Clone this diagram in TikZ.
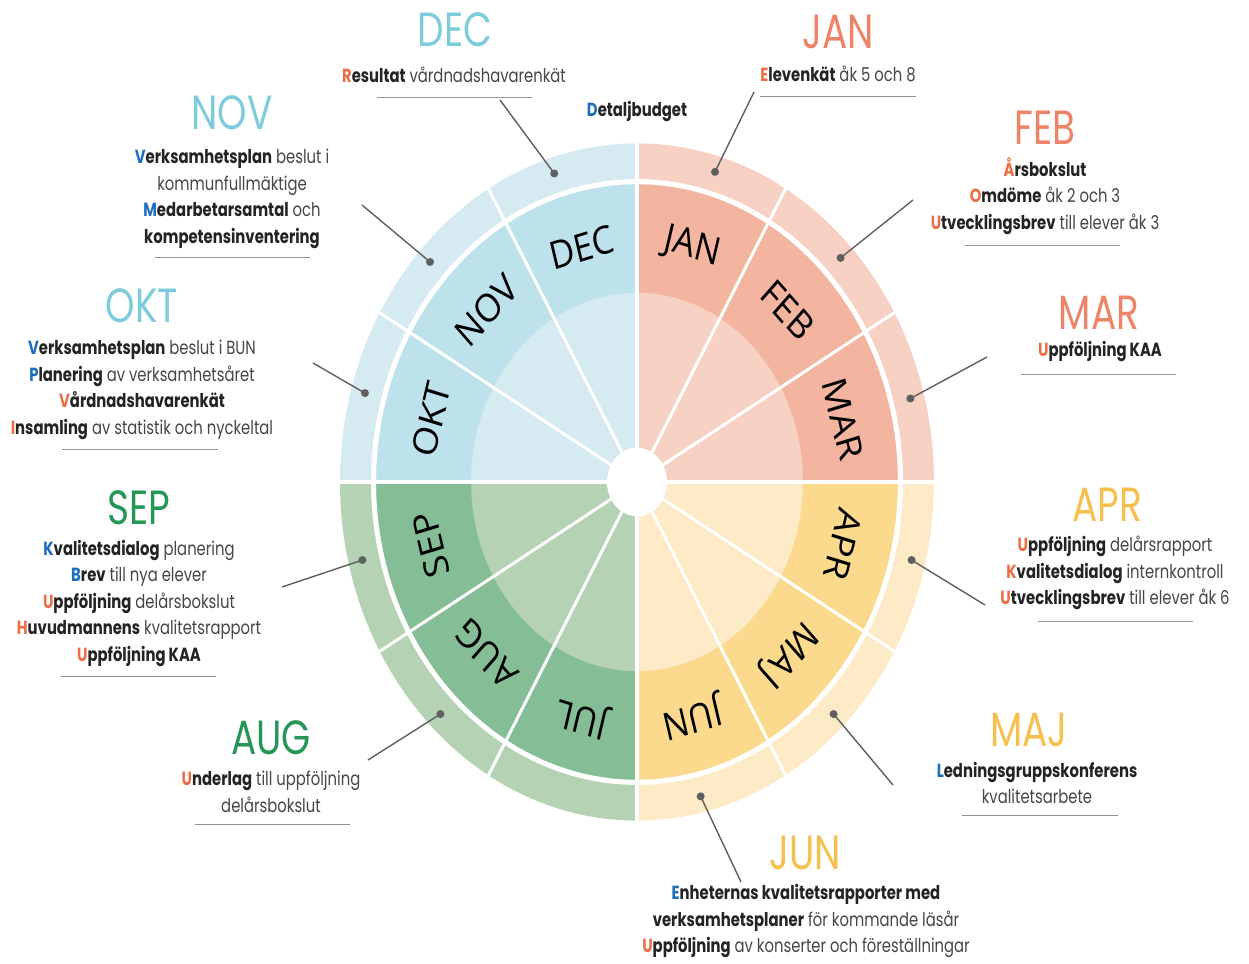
\documentclass[tikz,border=0pt]{standalone}
\usepackage{fontspec}
\setmainfont{Poppins}[FakeStretch=0.78]
\newfontfamily\monthfont{Open Sans}
\usetikzlibrary{positioning, calc}

\definecolor{skylt}{RGB}{214,234,241}
\definecolor{skydk}{RGB}{190,226,236}
\definecolor{salmonlt}{RGB}{247,209,195}
\definecolor{salmondk}{RGB}{243,181,160}
\definecolor{sunlt}{RGB}{253,234,198}
\definecolor{sundk}{RGB}{251,218,142}
\definecolor{leaflt}{RGB}{181,210,181}
\definecolor{leafdk}{RGB}{133,190,150}
\definecolor{skytxt}{RGB}{126,204,219}
\definecolor{salmontxt}{RGB}{238,132,103}
\definecolor{suntxt}{RGB}{247,191,77}
\definecolor{leaftxt}{RGB}{36,150,86}
\definecolor{inired}{RGB}{236,110,70}
\definecolor{iniblue}{RGB}{30,110,190}
\definecolor{bodytxt}{RGB}{70,70,70}
\definecolor{boldtxt}{RGB}{35,35,35}
\definecolor{leadgray}{RGB}{95,95,95}

% first letter coloured, word bold
\newcommand\fw[3]{{\bfseries\textcolor{#1}{#2}\textcolor{boldtxt}{#3}}}

\begin{document}
\begin{tikzpicture}[
    x=1pt, y=-1pt,
    mtitle/.style={font=\fontsize{48}{48}\selectfont},
    note/.style={align=center, text=bodytxt, font=\fontsize{19}{26.5}\selectfont},
    month/.style={font=\monthfont\fontsize{34}{34}\selectfont, text=black, inner sep=0pt},
    spoke/.style={white, line width=3pt},
    ruleline/.style={draw=gray!85, line width=0.8pt},
    lead/.style={draw=leadgray, line width=1.4pt},
    leaddot/.style={fill=leadgray}
]

    \fill[white] (0,0) rectangle (1249,963);
    \useasboundingbox (0,0) rectangle (1249,963);

    % The wheel
    \begin{scope}[shift={(637,482)}, x=1pt, y=1.14pt]
        \foreach \a/\cl/\cd in {0/salmonlt/salmondk, 90/skylt/skydk, 180/leaflt/leafdk, 270/sunlt/sundk} {
            \fill[\cl] (0,0) -- (\a:297) arc[start angle=\a, end angle=\a+90, radius=297] -- cycle;
            \fill[\cd] (\a:166) -- (\a:261) arc[start angle=\a, end angle=\a+90, radius=261]
                -- ({\a+90}:166) arc[start angle=\a+90, end angle=\a, radius=166] -- cycle;
        }
        \draw[white, line width=5pt] (0,0) circle (263.5);

        % Spokes
        \foreach \t in {30,60,120,150,210,240,300,330} {
            \draw[spoke] (0,0) -- (\t:300);
        }
        \foreach \t in {0,90,180,270} {
            \draw[spoke, line width=4pt] (0,0) -- (\t:300);
        }
        \fill[white] (0,0) circle (30);

        % Month names
        \foreach \m [count=\i] in {JAN,FEB,MAR,APR,MAJ,JUN,JUL,AUG,SEP,OKT,NOV,DEC} {
            \pgfmathsetmacro\t{105-30*\i}
            \node[month, yscale=1.14, rotate=\t-90] (m\m) at (\t:213) {\m};
        }

        % Pin points
        \coordinate (decdot) at (107:283);
        \coordinate (jandot) at (74:283);
        \coordinate (febdot) at (44:283);
        \coordinate (mardot) at (15:283);
        \coordinate (aprdot) at (-14:283);
        \coordinate (majdot) at (-46:283);
        \coordinate (jundot) at (-77:283);
        \coordinate (augdot) at (226:283);
        \coordinate (sepdot) at (194:283);
        \coordinate (oktdot) at (164:283);
        \coordinate (novdot) at (137:283);
    \end{scope}

    % DEC
    \node[mtitle, text=skytxt] (dect) at (455,30) {DEC};
    \node[note] (decb) at (454,75) {\fw{inired}{R}{esultat} vårdnadshavarenkät};
    \draw[ruleline] (377,97) -- ++(155,0);
    \coordinate (decend) at (500,100);

    \node[note] (budget) at (637,112) {\fw{iniblue}{D}{etaljbudget}};

    % NOV
    \node[mtitle, text=skytxt] (novt) at (232,113) {NOV};
    \node[note] (novb) at (232,199) {\fw{iniblue}{V}{erksamhetsplan} beslut i\\kommunfullmäktige\\
        \fw{iniblue}{M}{edarbetarsamtal} och\\{\bfseries\color{boldtxt}kompetensinventering}};
    \draw[ruleline] (155,257) -- ++(155,0);
    \coordinate (novend) at (362,205);

    % OKT
    \node[mtitle, text=skytxt] (oktt) at (142,306) {OKT};
    \node[note] (oktb) at (142,390) {\fw{iniblue}{V}{erksamhetsplan} beslut i BUN\\
        \fw{iniblue}{P}{lanering} av verksamhetsåret\\\fw{inired}{V}{årdnadshavarenkät}\\
        \fw{inired}{I}{nsamling} av statistik och nyckeltal};
    \draw[ruleline] (62,449) -- ++(156,0);
    \coordinate (oktend) at (313,363);

    % SEP
    \node[mtitle, text=leaftxt] (sept) at (139,508) {SEP};
    \node[note] (sepb) at (139,603) {\fw{iniblue}{K}{valitetsdialog} planering\\\fw{iniblue}{B}{rev} till nya elever\\
        \fw{inired}{U}{ppföljning} delårsbokslut\\\fw{inired}{H}{uvudmannens} kvalitetsrapport\\
        \fw{inired}{U}{ppföljning KAA}};
    \draw[ruleline] (61,676) -- ++(155,0);
    \coordinate (sepend) at (282,587);

    % AUG
    \node[mtitle, text=leaftxt] (augt) at (271,738) {AUG};
    \node[note] (augb) at (271,792) {\fw{inired}{U}{nderlag} till uppföljning\\delårsbokslut};
    \draw[ruleline] (195,824) -- ++(155,0);
    \coordinate (augend) at (368,760);

    % JUN
    \node[mtitle, text=suntxt] (junt) at (805,853) {JUN};
    \node[note] (junb) at (806,921) {\fw{iniblue}{E}{nheternas kvalitetsrapporter med}\\
        {\bfseries\color{boldtxt}verksamhetsplaner} för kommande läsår\\
        \fw{inired}{U}{ppföljning} av konserter och föreställningar};
    \coordinate (junend) at (741,882);

    % MAJ
    \node[mtitle, text=suntxt] (majt) at (1029,730) {MAJ};
    \node[note] (majb) at (1037,783) {\fw{iniblue}{L}{edningsgruppskonferens}\\kvalitetsarbete};
    \draw[ruleline] (962,815) -- ++(156,0);
    \coordinate (majend) at (893,785);

    % APR
    \node[mtitle, text=suntxt] (aprt) at (1107,505) {APR};
    \node[note] (aprb) at (1115,573) {\fw{inired}{U}{ppföljning} delårsrapport\\
        \fw{inired}{K}{valitetsdialog} internkontroll\\\fw{inired}{U}{tvecklingsbrev} till elever åk 6};
    \draw[ruleline] (1038,621) -- ++(155,0);
    \coordinate (aprend) at (985,605);

    % MAR
    \node[mtitle, text=salmontxt] (mart) at (1099,313) {MAR};
    \node[note] (marb) at (1100,351) {\fw{inired}{U}{ppföljning KAA}};
    \draw[ruleline] (1021,374) -- ++(155,0);
    \coordinate (marend) at (987,357);

    % FEB
    \node[mtitle, text=salmontxt] (febt) at (1045,128) {FEB};
    \node[note] (febb) at (1045,196) {\fw{inired}{Å}{rsbokslut}\\\fw{inired}{O}{mdöme} åk 2 och 3\\
        \fw{inired}{U}{tvecklingsbrev} till elever åk 3};
    \draw[ruleline] (965,245) -- ++(155,0);
    \coordinate (febend) at (913,200);

    % JAN
    \node[mtitle, text=salmontxt] (jant) at (838,32) {JAN};
    \node[note] (janb) at (838,74) {\fw{inired}{E}{levenkät} åk 5 och 8};
    \draw[ruleline] (760,96) -- ++(156,0);
    \coordinate (janend) at (754,92);

    % Leader lines
    \foreach \m in {dec,jan,feb,mar,apr,maj,jun,aug,sep,okt,nov} {
        \draw[lead] (\m end) -- (\m dot);
        \fill[leaddot] (\m dot) circle (4);
    }

\end{tikzpicture}
\end{document}
